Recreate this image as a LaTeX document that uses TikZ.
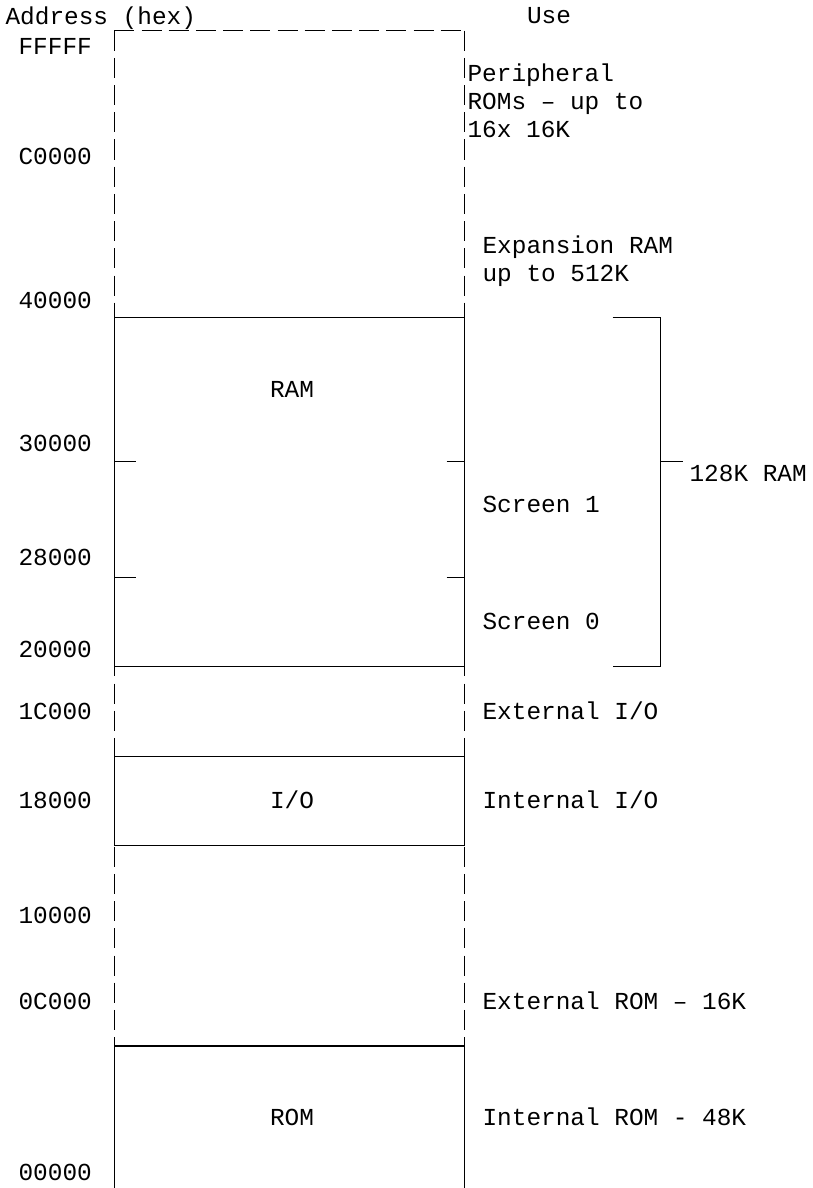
\documentclass[tikz,border=0pt]{standalone}
\usepackage{fontspec}
\setmainfont{Liberation Mono}
\begin{document}
\begin{tikzpicture}[x=0.5pt,y=-0.5pt,line width=0.6pt,
    dashes/.style={dash pattern=on 10pt off 3.6pt},
    lbl/.style={anchor=base west,inner sep=0pt,font=\fontsize{12.2}{14}\selectfont},
    mid/.style={lbl,anchor=base}]
  \useasboundingbox (0,0) rectangle (813,1188);
  \coordinate (TL) at (114.3,30.7);
  \coordinate (TR) at (464.3,30.7);
  \coordinate (BL) at (114.3,1188);
  \coordinate (BR) at (464.3,1188);
  % outer frame
  \draw[dashes] (TL)--(TR);
  \draw[dashes] (TL)--(BL);
  \draw[dashes] (TR)--(BR);
  % fitted blocks
  \draw (114.3,317.7) rectangle (464.3,666.7);
  \draw (114.3,756.7) rectangle (464.3,845.7);
  \draw (BL)--(114.3,1046)--(464.3,1046)--(BR);
  % screen ticks
  \foreach \y in {461.7,577.7} {
    \draw (114.3,\y)--(136,\y);
    \draw (446.7,\y)--(464.3,\y);
  }
  % bracket
  \coordinate (P) at (612.7,317.7);
  \coordinate (Q) at (660.3,317.7);
  \coordinate (R) at (660.3,666.7);
  \coordinate (S) at (612.7,666.7);
  \coordinate (M) at (660.3,461.7);
  \draw (P)--(Q)--(R)--(S);
  \draw (M)--++(22.7,0) node[lbl,anchor=west,xshift=3pt,yshift=-6pt] (ram) {128K RAM};
  % headings
  \node[lbl] (addr) at (5,25) {Address (hex)};
  \node[mid] (use) at (549,24) {Use};
  % addresses
  \foreach \t/\y in {FFFFF/55,C0000/164,40000/308,30000/451,28000/565,20000/657,
      1C000/719,18000/808,10000/923,0C000/1009,00000/1180}
    \node[lbl] (a\t) at (18,\y) {\t};
  % block names
  \node[mid] (bram) at (292,397) {RAM};
  \node[mid] (bio) at (292,808) {I/O};
  \node[mid] (brom) at (292,1125) {ROM};
  % uses
  \node[lbl] (u1) at (467,82) {Peripheral};
  \node[lbl] (u2) at (467,110) {ROMs – up to};
  \node[lbl] (u3) at (467,137) {16x 16K};
  \node[lbl] (u4) at (482,253) {Expansion RAM};
  \node[lbl] (u5) at (482,281) {up to 512K};
  \node[lbl] (u6) at (482,512) {Screen 1};
  \node[lbl] (u7) at (482,629) {Screen 0};
  \node[lbl] (u8) at (482,719) {External I/O};
  \node[lbl] (u9) at (482,808) {Internal I/O};
  \node[lbl] (u10) at (482,1009) {External ROM – 16K};
  \node[lbl] (u11) at (482,1125) {Internal ROM - 48K};
\end{tikzpicture}
\end{document}
